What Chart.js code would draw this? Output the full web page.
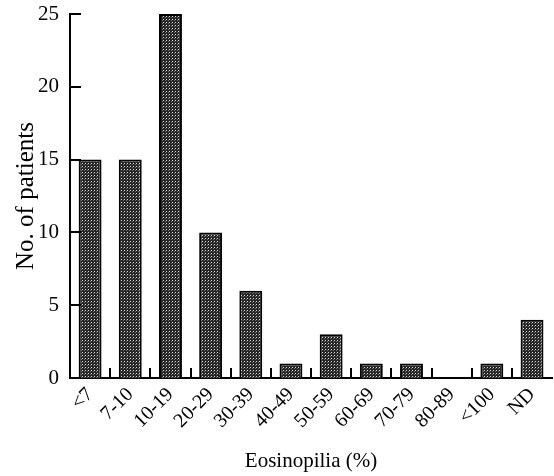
<!DOCTYPE html>
<html>
<head>
<meta charset="utf-8">
<script src="https://cdn.jsdelivr.net/npm/chart.js"></script>
<style>
  html, body { margin: 0; padding: 0; background: #fff; }
  canvas { display: block; }
</style>
</head>
<body>
<canvas id="eosChart" width="554" height="476"></canvas>
<script>
const categories = ['<7', '7-10', '10-19', '20-29', '30-39', '40-49', '50-59', '60-69', '70-79', '80-89', '<100', 'ND'];
const patients = [15, 15, 25, 10, 6, 1, 3, 1, 1, 0, 1, 4];
const yTicks = [0, 5, 10, 15, 20, 25];

const serif = '"Liberation Serif", "Times New Roman", serif';

// dotted grey fill like the scanned bars
function makeDots() {
    const c = document.createElement('canvas');
    c.width = 3;
    c.height = 3;
    const g = c.getContext('2d');
    g.fillStyle = '#262626';
    g.fillRect(0, 0, 3, 3);
    g.fillStyle = '#d8d8d8';
    g.fillRect(1, 1, 1, 1);
    g.fillStyle = '#6e6e6e';
    g.fillRect(0, 2, 1, 1);
    return g.createPattern(c, 'repeat');
}

// short tick marks pointing into the plot
const innerTicks = {
    id: 'innerTicks',
    afterDraw(chart) {
        const { ctx, chartArea, scales } = chart;
        ctx.save();
        ctx.strokeStyle = '#000';
        ctx.lineWidth = 2;
        scales.y.ticks.forEach(t => {
            const py = Math.round(scales.y.getPixelForValue(t.value));
            ctx.beginPath();
            ctx.moveTo(chartArea.left, py);
            ctx.lineTo(chartArea.left + 11, py);
            ctx.stroke();
        });
        for (let i = 1; i < categories.length; i++) {
            const px = Math.round((scales.x.getPixelForValue(i - 1) + scales.x.getPixelForValue(i)) / 2);
            ctx.beginPath();
            ctx.moveTo(px, chartArea.bottom);
            ctx.lineTo(px, chartArea.bottom - 10);
            ctx.stroke();
        }
        ctx.restore();
    }
};

new Chart(document.getElementById('eosChart'), {
    type: 'bar',
    data: {
        labels: categories,
        datasets: [{
            label: 'No. of patients',
            data: patients,
            backgroundColor: makeDots(),
            borderColor: '#000',
            borderWidth: 2,
            barPercentage: 0.57,
            categoryPercentage: 1
        }]
    },
    options: {
        responsive: false,
        animation: false,
        layout: { padding: { top: 14, right: 0, left: 0, bottom: 0 } },
        plugins: {
            legend: { display: false },
            tooltip: { enabled: false }
        },
        scales: {
            x: {
                grid: { display: false, drawTicks: false },
                border: { display: true, color: '#000', width: 2 },
                ticks: {
                    color: '#000',
                    minRotation: 45,
                    maxRotation: 45,
                    autoSkip: false,
                    padding: 5,
                    font: { family: serif, size: 20 }
                },
                title: {
                    display: true,
                    text: 'Eosinopilia (%)',
                    color: '#000',
                    padding: { top: 0, bottom: 2 },
                    font: { family: serif, size: 21 }
                },
                afterFit(scale) { scale.height = 98; }
            },
            y: {
                min: yTicks[0],
                max: yTicks[yTicks.length - 1],
                grid: { display: false, drawTicks: false },
                border: { display: true, color: '#000', width: 2 },
                ticks: {
                    color: '#000',
                    stepSize: yTicks[1] - yTicks[0],
                    padding: 11,
                    font: { family: serif, size: 21 }
                },
                title: {
                    display: true,
                    text: 'No. of patients',
                    color: '#000',
                    padding: { top: 11, bottom: 0 },
                    font: { family: serif, size: 25 }
                },
                afterFit(scale) {
                    scale.width = 70;
                    scale.paddingTop = 0;
                    scale.paddingBottom = 0;
                }
            }
        }
    },
    plugins: [innerTicks]
});
</script>
</body>
</html>
